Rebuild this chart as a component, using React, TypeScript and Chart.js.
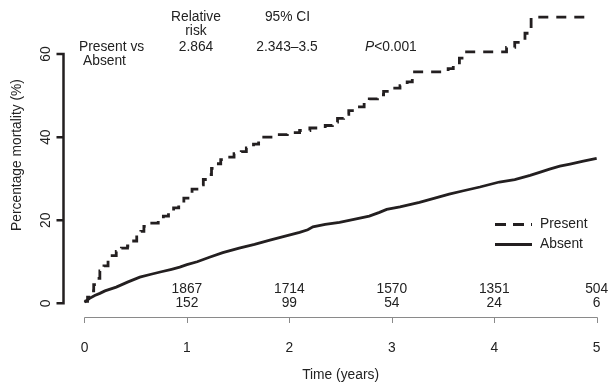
import { useEffect, useRef } from 'react';
import { Chart, registerables } from 'chart.js';

Chart.register(...registerables);

// ---- Data ----
const seriesNames = ['Present', 'Absent'];

// Kaplan–Meier style steps for "Present" (time in years, cumulative mortality %)
const presentTimes = [
  0, 0.03, 0.06, 0.09, 0.12, 0.15, 0.19, 0.23, 0.27, 0.31, 0.36, 0.42, 0.46, 0.51, 0.55, 0.58,
  0.62, 0.72, 0.77, 0.82, 0.87, 0.92, 0.97, 1.01, 1.05, 1.12, 1.16, 1.2, 1.24, 1.28, 1.33, 1.38,
  1.46, 1.53, 1.58, 1.65, 1.7, 1.75, 1.84, 1.98, 2.1, 2.2, 2.35, 2.42, 2.47, 2.53, 2.58, 2.66,
  2.73, 2.78, 2.86, 2.92, 2.99, 3.08, 3.15, 3.2, 3.55, 3.6, 3.66, 3.7, 4.12, 4.2, 4.3, 4.36, 4.89,
];
const presentValues = [
  0.5, 1.5, 3, 4.5, 6, 7.8, 9, 10.3, 11.5, 12.5, 13.3, 13.8, 15, 16, 17.3, 18.5,
  19.3, 20, 21, 22, 23, 24, 25.3, 26.3, 27.5, 28.5, 29.8, 31, 32.5, 33.6, 34.6, 35.2,
  36, 36.5, 37.4, 38.3, 39.3, 40, 40.6, 41.1, 41.6, 42.2, 42.8, 43.6, 44.5, 45.5, 46.4, 47.3,
  48.3, 49.2, 50.2, 51, 51.8, 52.4, 53.3, 55.7, 56.5, 57.3, 59, 60.5, 61.6, 62.8, 65, 68.9, 68.9,
];

// "Absent" curve (many small steps, looks smooth)
const absentTimes = [
  0, 0.05, 0.1, 0.15, 0.2, 0.31, 0.42, 0.54, 0.65, 0.75, 0.85, 0.93, 1.0, 1.1, 1.22, 1.35,
  1.51, 1.66, 1.81, 1.95, 2.1, 2.18, 2.23, 2.35, 2.49, 2.63, 2.78, 2.88, 2.95, 3.08, 3.27, 3.42,
  3.56, 3.7, 3.86, 4.05, 4.2, 4.35, 4.45, 4.54, 4.64, 4.74, 4.87, 5.0,
];
const absentValues = [
  0.3, 1.2, 1.9, 2.4, 3.0, 3.9, 5.1, 6.3, 7.0, 7.6, 8.2, 8.7, 9.3, 10.0, 11.1, 12.2,
  13.3, 14.2, 15.2, 16.1, 17.1, 17.7, 18.4, 19.0, 19.5, 20.2, 21.0, 21.9, 22.6, 23.2, 24.3, 25.3,
  26.3, 27.1, 28.0, 29.2, 29.8, 30.8, 31.6, 32.3, 33.0, 33.5, 34.2, 34.9,
];

const xTicks = [0, 1, 2, 3, 4, 5];
const yTicks = [0, 20, 40, 60];
const atRiskTimes = [1, 2, 3, 4, 5];
const atRiskAbsent = ['1867', '1714', '1570', '1351', '504'];
const atRiskPresent = ['152', '99', '54', '24', '6'];

const xTitle = 'Time (years)';
const yTitle = 'Percentage mortality (%)';
const comparisonLabel = ['Present vs', 'Absent'];
const rrHeader = ['Relative', 'risk'];
const rrValue = '2.864';
const ciHeader = '95% CI';
const ciValue = '2.343–3.5';
const pItalic = 'P';
const pRest = '<0.001';

const FONT = '13.8px "Liberation Sans", Arial, Helvetica, sans-serif';
const FONT_IT = 'italic 13.8px "Liberation Sans", Arial, Helvetica, sans-serif';
const INK = '#231f20';
const TEXT = '#222222';

const decorPlugin = {
  id: 'decor',
  afterDraw(chart: any) {
    const ctx = chart.ctx as CanvasRenderingContext2D;
    const xs = chart.scales.x;
    const ys = chart.scales.y;
    const area = chart.chartArea;
    ctx.save();

    // ---- Y axis (0..60) thick black ----
    const axX = area.left - 0.5;
    ctx.strokeStyle = INK;
    ctx.lineWidth = 2.5;
    ctx.lineCap = 'butt';
    ctx.beginPath();
    ctx.moveTo(axX, ys.getPixelForValue(yTicks[0]) + 1.2);
    ctx.lineTo(axX, ys.getPixelForValue(yTicks[yTicks.length - 1]) - 1.2);
    for (const v of yTicks) {
      const py = ys.getPixelForValue(v);
      ctx.moveTo(axX, py);
      ctx.lineTo(axX - 7, py);
    }
    ctx.stroke();

    ctx.fillStyle = TEXT;
    ctx.font = FONT;
    ctx.textAlign = 'center';
    ctx.textBaseline = 'middle';
    for (const v of yTicks) {
      const py = ys.getPixelForValue(v);
      ctx.save();
      ctx.translate(46, py);
      ctx.rotate(-Math.PI / 2);
      ctx.fillText(String(v), 0, 0);
      ctx.restore();
    }
    ctx.save();
    ctx.translate(17, 155);
    ctx.rotate(-Math.PI / 2);
    ctx.fillText(yTitle, 0, 0);
    ctx.restore();

    // ---- X axis (0..5) thin grey ----
    const axY = area.bottom + 0.7;
    ctx.strokeStyle = '#8a8a8a';
    ctx.lineWidth = 1;
    ctx.beginPath();
    ctx.moveTo(Math.round(xs.getPixelForValue(xTicks[0])) + 0.5, Math.round(axY) + 0.5);
    ctx.lineTo(Math.round(xs.getPixelForValue(xTicks[xTicks.length - 1])) + 0.5, Math.round(axY) + 0.5);
    for (const t of xTicks) {
      const px = Math.round(xs.getPixelForValue(t)) + 0.5;
      ctx.moveTo(px, Math.round(axY) + 0.5);
      ctx.lineTo(px, Math.round(axY) + 6);
    }
    ctx.stroke();

    ctx.fillStyle = TEXT;
    for (const t of xTicks) {
      ctx.fillText(String(t), xs.getPixelForValue(t), 348);
    }
    const xMid = (xs.getPixelForValue(xTicks[0]) + xs.getPixelForValue(xTicks[xTicks.length - 1])) / 2;
    ctx.fillText(xTitle, xMid, 375);

    // ---- Numbers at risk ----
    atRiskTimes.forEach((t, i) => {
      const px = xs.getPixelForValue(t);
      ctx.fillText(atRiskAbsent[i], px, 289.5);
      ctx.fillText(atRiskPresent[i], px, 303.5);
    });

    // ---- Header statistics ----
    ctx.fillText(rrHeader[0], 196, 17);
    ctx.fillText(rrHeader[1], 196, 31.5);
    ctx.fillText(rrValue, 196, 47);
    ctx.fillText(ciHeader, 287.5, 17);
    ctx.fillText(ciValue, 287, 47);

    ctx.textAlign = 'left';
    ctx.fillText(comparisonLabel[0], 79, 47);
    ctx.fillText(comparisonLabel[1], 83, 61.5);
    ctx.font = FONT_IT;
    ctx.fillText(pItalic, 365, 47);
    const pw = ctx.measureText(pItalic).width;
    ctx.font = FONT;
    ctx.fillText(pRest, 365 + pw, 47);

    // ---- Legend ----
    ctx.strokeStyle = INK;
    ctx.lineWidth = 2.8;
    ctx.setLineDash([11, 7]);
    ctx.beginPath();
    ctx.moveTo(495, 224.5);
    ctx.lineTo(532, 224.5);
    ctx.stroke();
    ctx.setLineDash([]);
    ctx.beginPath();
    ctx.moveTo(495, 244.5);
    ctx.lineTo(532, 244.5);
    ctx.stroke();
    ctx.fillStyle = TEXT;
    ctx.fillText(seriesNames[0], 540, 224.5);
    ctx.fillText(seriesNames[1], 540, 244.5);

    ctx.restore();
  },
};

export default function App() {
  const canvasRef = useRef<HTMLCanvasElement | null>(null);

  useEffect(() => {
    const canvas = canvasRef.current;
    if (!canvas) return;
    const chart = new Chart(canvas, {
      type: 'line',
      data: {
        datasets: [
          {
            label: seriesNames[0],
            data: presentTimes.map((t, i) => ({ x: t, y: presentValues[i] })),
            borderColor: INK,
            borderWidth: 2.8,
            borderDash: [10, 8],
            stepped: 'before',
            pointRadius: 0,
            fill: false,
          },
          {
            label: seriesNames[1],
            data: absentTimes.map((t, i) => ({ x: t, y: absentValues[i] })),
            borderColor: INK,
            borderWidth: 2.8,
            tension: 0,
            pointRadius: 0,
            fill: false,
          },
        ],
      },
      options: {
        animation: false,
        responsive: false,
        devicePixelRatio: 1,
        layout: { padding: { left: 64, right: 6.2, top: 12.5, bottom: 70.2 } },
        scales: {
          x: { type: 'linear', min: -0.2, max: 5.05, display: false },
          y: { type: 'linear', min: -3, max: 70, display: false },
        },
        plugins: {
          legend: { display: false },
          tooltip: { enabled: false },
          title: { display: false },
        },
      },
      plugins: [decorPlugin],
    } as any);
    return () => chart.destroy();
  }, []);

  return (
    <div style={{ position: 'fixed', left: 0, top: 0, width: 608, height: 386, background: '#fff' }}>
      <canvas ref={canvasRef} width={608} height={386} style={{ display: 'block' }} />
    </div>
  );
}
